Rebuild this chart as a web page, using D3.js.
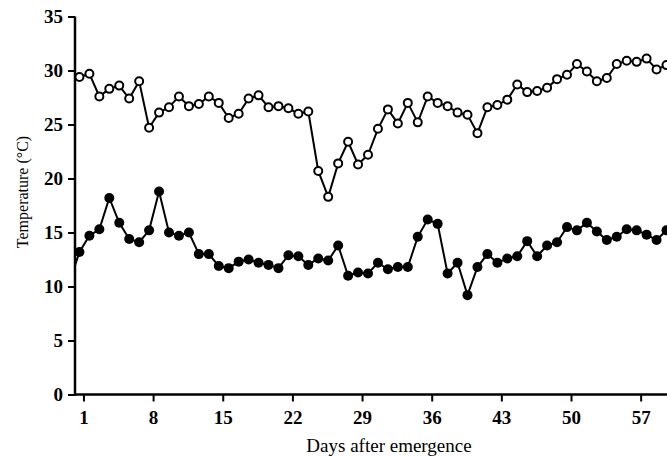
<!DOCTYPE html>
<html>
<head>
<meta charset="utf-8">
<script src="https://cdn.jsdelivr.net/npm/d3@7"></script>
<style>
  html, body { margin: 0; padding: 0; background: #fff; }
  svg { display: block; }
</style>
</head>
<body>
<svg id="chart" width="667" height="457"></svg>
<script>
// Days after emergence for each daily reading
const maxDays = d3.range(1, 61);
const minDays = d3.range(0, 61);

// Daily maximum temperature (open circles)
const maxTemp = [29.4, 29.7, 27.6, 28.3, 28.6, 27.4, 29.0, 24.7, 26.1, 26.6,
                 27.6, 26.7, 26.9, 27.6, 27.0, 25.6, 26.0, 27.4, 27.7, 26.6,
                 26.7, 26.5, 26.0, 26.2, 20.7, 18.3, 21.4, 23.4, 21.3, 22.2,
                 24.6, 26.4, 25.1, 27.0, 25.2, 27.6, 27.0, 26.7, 26.1, 25.9,
                 24.2, 26.6, 26.8, 27.3, 28.7, 28.0, 28.1, 28.4, 29.2, 29.6,
                 30.6, 29.9, 29.0, 29.3, 30.6, 30.9, 30.8, 31.1, 30.1, 30.5];

// Daily minimum temperature (filled circles)
const minTemp = [10.4, 13.2, 14.7, 15.3, 18.2, 15.9, 14.4, 14.1, 15.2, 18.8,
                 15.0, 14.7, 15.0, 13.0, 13.0, 11.9, 11.7, 12.3, 12.5, 12.2,
                 12.0, 11.7, 12.9, 12.8, 12.0, 12.6, 12.4, 13.8, 11.0, 11.3,
                 11.2, 12.2, 11.6, 11.8, 11.8, 14.6, 16.2, 15.8, 11.2, 12.2,
                 9.2, 11.8, 13.0, 12.2, 12.6, 12.8, 14.2, 12.8, 13.8, 14.1,
                 15.5, 15.2, 15.9, 15.1, 14.3, 14.6, 15.3, 15.2, 14.8, 14.3, 15.2];

const xTicks = [1, 8, 15, 22, 29, 36, 43, 50, 57];
const yTicks = [0, 5, 10, 15, 20, 25, 30, 35];

const xTitle = "Days after emergence";
const yTitle = "Temperature (\u00B0C)";

const svg = d3.select("#chart");
const font = "'Liberation Serif', 'Times New Roman', serif";

const x = d3.scaleLinear().domain([0, 60]).range([73.5, 670.5]);
const y = d3.scaleLinear().domain([0, 35]).range([394.5, 16.5]);
const pointShift = -4; // markers sit slightly left of the day ticks

const px = d => x(d) + pointShift;

// clip to plot area (right of y-axis)
svg.append("defs").append("clipPath").attr("id", "plotclip")
  .append("rect").attr("x", 75).attr("y", 0).attr("width", 600).attr("height", 400);

// Axes
const xAxis = d3.axisBottom(x).tickValues(xTicks).tickSize(7).tickSizeOuter(0).tickFormat(d3.format("d"));
const yAxis = d3.axisLeft(y).tickValues(yTicks).tickSize(7).tickSizeOuter(0).tickFormat(d3.format("d"));

const gx = svg.append("g").attr("transform", `translate(0,${y(0)})`).call(xAxis);
gx.select(".domain").attr("d", `M74,0H667`);
const gy = svg.append("g").attr("transform", `translate(75,0)`).call(yAxis);
gy.select(".domain").attr("d", `M0,${y(35)}V${y(0) + 1.2}`);

[gx, gy].forEach(g => {
  g.select(".domain").attr("stroke", "#000").attr("stroke-width", 2.5).attr("fill", "none");
  g.selectAll(".tick line").attr("stroke", "#000").attr("stroke-width", 2);
  g.selectAll(".tick text").attr("fill", "#000").style("font-family", font)
    .style("font-size", "19px").style("font-weight", "bold");
});
gx.selectAll(".tick text").attr("y", 16);
gy.selectAll(".tick text").attr("x", -12);

// Axis titles
svg.append("text").attr("x", 389).attr("y", 452).attr("text-anchor", "middle")
  .style("font-family", font).style("font-size", "19px").text(xTitle);
svg.append("text").attr("transform", "translate(28,192) rotate(-90)").attr("text-anchor", "middle")
  .style("font-family", font).style("font-size", "16px").text(yTitle);

const plot = svg.append("g").attr("clip-path", "url(#plotclip)");

const maxData = maxDays.map((d, i) => ({ d, v: maxTemp[i] }));
const minData = minDays.map((d, i) => ({ d, v: minTemp[i] }));

const line = d3.line().x(p => px(p.d)).y(p => y(p.v));

plot.append("path").datum(minData).attr("d", line)
  .attr("fill", "none").attr("stroke", "#000").attr("stroke-width", 2);
plot.append("path").datum(maxData).attr("d", line)
  .attr("fill", "none").attr("stroke", "#000").attr("stroke-width", 2);

plot.selectAll("circle.min").data(minData).join("circle").attr("class", "min")
  .attr("cx", p => px(p.d)).attr("cy", p => y(p.v)).attr("r", 5)
  .attr("fill", "#000");

plot.selectAll("circle.max").data(maxData).join("circle").attr("class", "max")
  .attr("cx", p => px(p.d)).attr("cy", p => y(p.v)).attr("r", 4)
  .attr("fill", "#fff").attr("stroke", "#000").attr("stroke-width", 2);
</script>
</body>
</html>
